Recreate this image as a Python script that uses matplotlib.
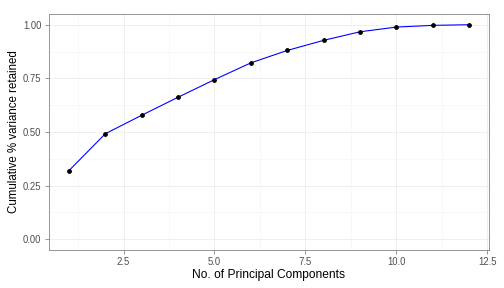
import matplotlib.pyplot as plt
from matplotlib.ticker import MultipleLocator, FormatStrFormatter

plt.rcParams['font.family'] = ['Liberation Sans', 'DejaVu Sans']

# Данные: кумулятивная доля дисперсии
components = [1, 2, 3, 4, 5, 6, 7, 8, 9, 10, 11, 12]
cum_variance = [0.320, 0.492, 0.578, 0.662, 0.744, 0.822,
                0.880, 0.927, 0.967, 0.989, 0.997, 1.000]

fig = plt.figure(figsize=(7, 4), dpi=72)
ax = fig.add_axes([0.0972, 0.132, 0.873, 0.8194])

ax.plot(components, cum_variance, color='blue', linewidth=1.1, zorder=3)
ax.scatter(components, cum_variance, color='black', s=14, zorder=4)

ax.set_xlim(0.45, 12.55)
ax.set_ylim(-0.05, 1.05)
ax.xaxis.set_major_locator(MultipleLocator(2.5))
ax.xaxis.set_minor_locator(MultipleLocator(1.25))
ax.yaxis.set_major_locator(MultipleLocator(0.25))
ax.yaxis.set_minor_locator(MultipleLocator(0.125))
ax.xaxis.set_major_formatter(FormatStrFormatter('%.1f'))
ax.yaxis.set_major_formatter(FormatStrFormatter('%.2f'))

# Сетка в стиле theme_bw
ax.grid(which='major', color='#ebebeb', linewidth=0.8)
ax.grid(which='minor', color='#f5f5f5', linewidth=0.6)
ax.set_axisbelow(True)
for s in ax.spines.values():
    s.set_color('#7f7f7f')
    s.set_linewidth(0.8)

ax.tick_params(which='major', length=4, color='#7f7f7f', labelsize=9.5,
               labelcolor='#4d4d4d', width=0.8)
ax.tick_params(which='minor', length=0)

ax.set_xlabel('No. of Principal Components', fontsize=12, labelpad=2)
ax.set_ylabel('Cumulative % variance retained', fontsize=11.5, labelpad=3)

plt.savefig('out.png', dpi=72)
